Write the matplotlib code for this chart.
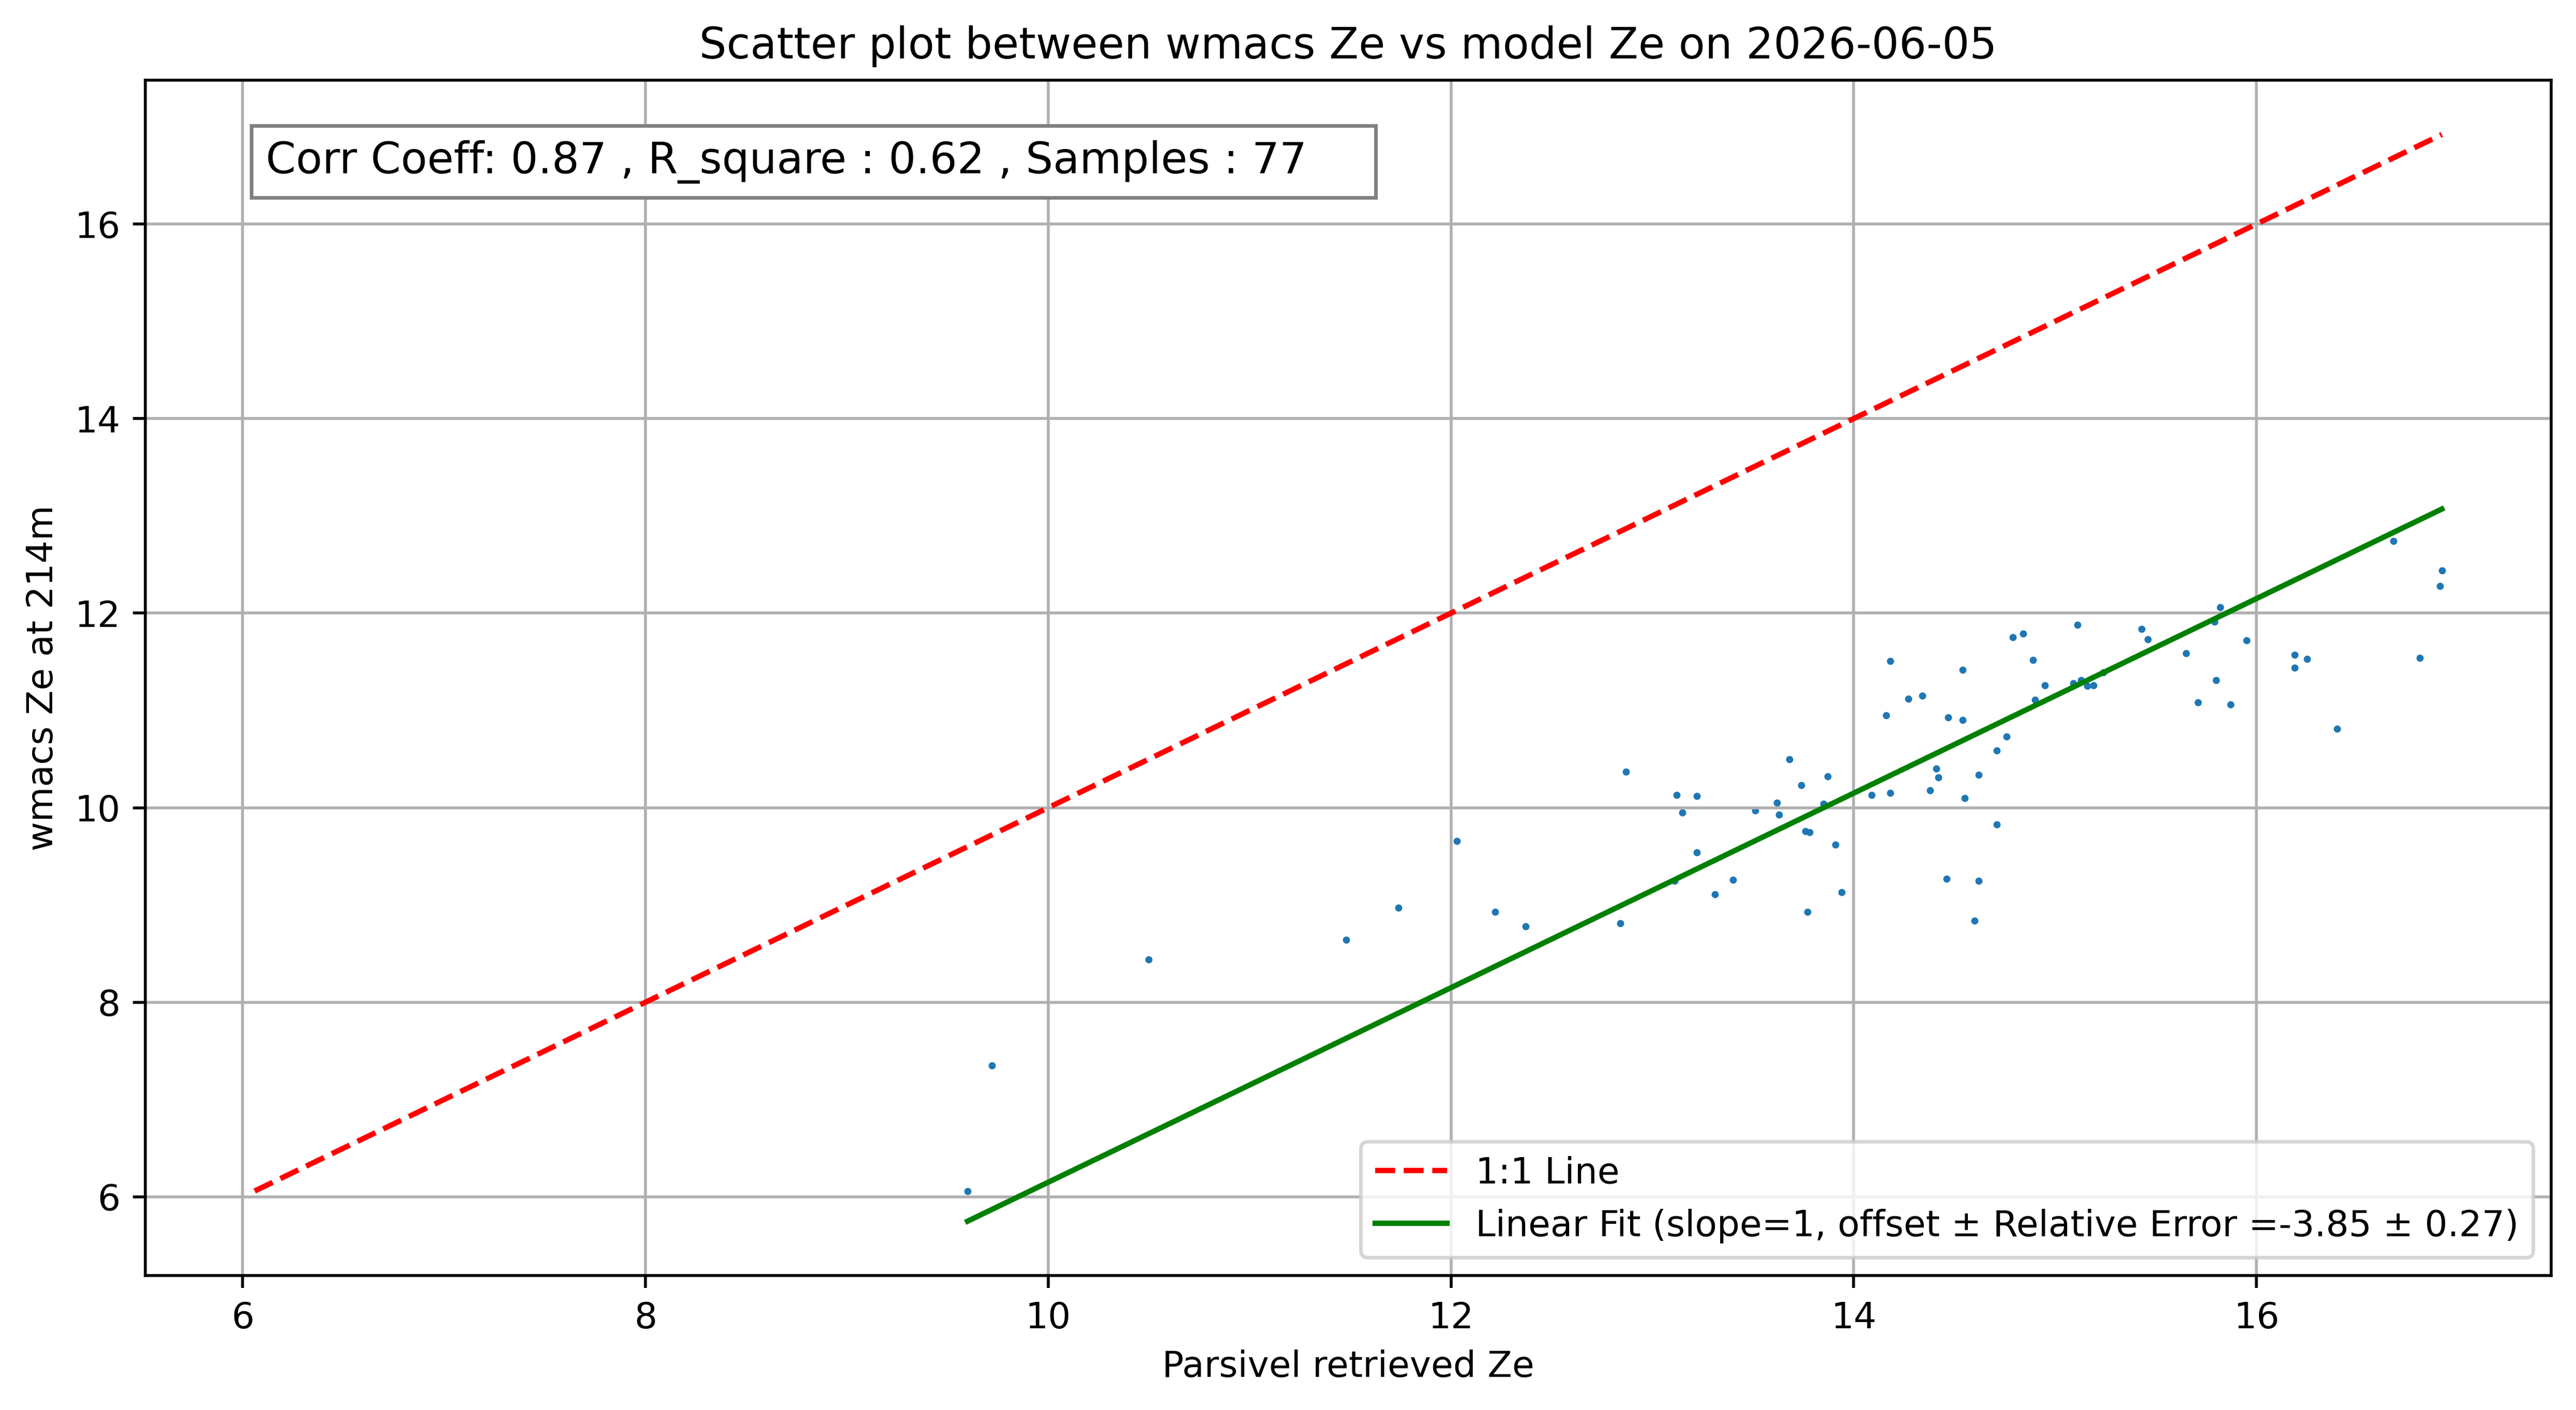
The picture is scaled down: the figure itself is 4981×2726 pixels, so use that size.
import numpy as np
import matplotlib
matplotlib.use("Agg")
import matplotlib.pyplot as plt

# parsivel (x) and wmacs (y) reflectivity
parsivel_ze = [9.60, 9.72, 10.50, 11.48, 11.74, 12.03, 12.22, 12.37, 12.84,
               12.87, 13.12, 13.22, 13.15, 13.51, 13.62, 13.63, 13.68, 13.74,
               13.87, 13.85, 13.76, 13.78, 13.91, 13.22, 13.11, 13.40, 13.31,
               13.94, 14.09, 14.18, 14.16, 14.18, 14.27, 13.77,
               14.34, 14.54, 14.47, 14.54, 14.41, 14.42, 14.38, 14.55, 14.62,
               14.71, 14.76, 14.71, 14.46, 14.62, 14.79, 14.84, 14.89, 14.90,
               14.95, 15.11, 15.09, 15.13, 15.16, 15.19, 15.24, 15.43, 15.46,
               15.65, 15.71, 15.80, 15.79, 15.82, 14.60,
               16.68, 16.92, 16.91, 15.95, 15.87, 16.19, 16.19, 16.25, 16.81,
               16.40]
wmacs_ze = [6.06, 7.35, 8.44, 8.64, 8.97, 9.66, 8.93, 8.78, 8.81,
            10.37, 10.13, 10.12, 9.95, 9.97, 10.05, 9.93, 10.50, 10.23,
            10.32, 10.04, 9.76, 9.75, 9.62, 9.54, 9.25, 9.26, 9.11,
            9.13, 10.13, 10.15, 10.95, 11.51, 11.12, 8.93,
            11.15, 11.42, 10.93, 10.90, 10.40, 10.31, 10.18, 10.10, 10.34,
            10.59, 10.73, 9.83, 9.27, 9.25, 11.75, 11.79, 11.52, 11.11,
            11.26, 11.88, 11.28, 11.31, 11.25, 11.26, 11.39, 11.84, 11.73,
            11.59, 11.08, 11.31, 11.91, 12.06, 8.84,
            12.74, 12.44, 12.28, 11.72, 11.06, 11.57, 11.44, 11.53, 11.54,
            10.81]

offset = -3.85
rel_err = 0.27
corr = 0.87
r2 = 0.62
date = "2026-06-05"
height = "214m"

x = np.array(parsivel_ze)
y = np.array(wmacs_ze)

fig = plt.figure(figsize=(4981 / 500, 2726 / 500), dpi=500)
ax = fig.add_axes([281 / 4981, 1 - 2466 / 2726, (4933 - 281) / 4981, (2466 - 155) / 2726])

ax.scatter(x, y, s=4, linewidths=0)

lo = min(x.min(), y.min())
hi = max(x.max(), y.max())
ax.plot([lo, hi], [lo, hi], 'r--', label='1:1 Line')

xf = np.array([x.min(), x.max()])
ax.plot(xf, xf + offset, 'g-',
        label=f'Linear Fit (slope=1, offset \u00b1 Relative Error ={offset:.2f} \u00b1 {rel_err:.2f})')

ax.text(0.05, 0.95, f'Corr Coeff: {corr:.2f} , R_square : {r2:.2f} , Samples : {len(x)}    ',
        transform=ax.transAxes, fontsize=12, va='top',
        bbox=dict(facecolor='white', edgecolor='gray'))

ax.set_title(f'Scatter plot between wmacs Ze vs model Ze on {date}')
ax.set_xlabel('Parsivel retrieved Ze')
ax.set_ylabel(f'wmacs Ze at {height}')
ax.grid(True)
ax.legend(loc='lower right')

fig.savefig('out.png', dpi=500)
